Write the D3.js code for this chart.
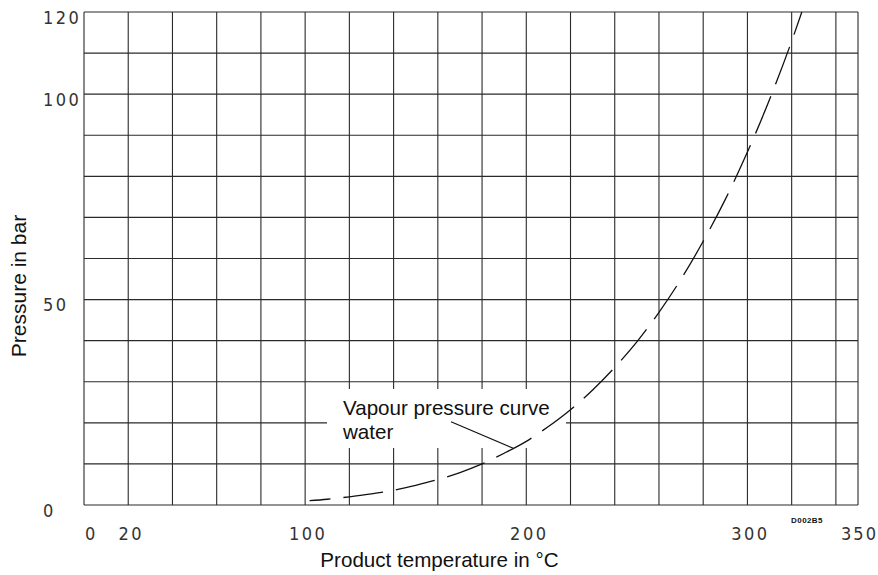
<!DOCTYPE html>
<html>
<head>
<meta charset="utf-8">
<script src="https://cdn.jsdelivr.net/npm/d3@7"></script>
<style>
  html, body { margin: 0; padding: 0; background: #fff; }
  svg { display: block; }
</style>
</head>
<body>
<svg id="chart" width="878" height="575"></svg>
<script>
// ---- data ----
const temperatureC = [102, 110, 120, 130, 140, 150, 160, 170, 180, 190, 200, 210, 220, 230, 240, 250, 260, 270, 280, 290, 300, 310, 320, 324.6];
const pressureBar  = [1.05, 1.4, 2.0, 2.7, 3.6, 4.8, 6.2, 7.9, 10.0, 12.6, 15.5, 19.1, 23.2, 28.0, 33.5, 39.7, 46.9, 55.0, 64.2, 74.4, 85.9, 98.7, 112.9, 120];
const xGridValues = [0, 20, 40, 60, 80, 100, 120, 140, 160, 180, 200, 220, 240, 260, 280, 300, 320, 340, 350];
const yGridValues = [0, 10, 20, 30, 40, 50, 60, 70, 80, 90, 100, 110, 120];
const xTickLabels = [0, 20, 100, 200, 300, 350];
const yTickLabels = [0, 50, 100, 120];
const xTitle = "Product temperature in °C";
const yTitle = "Pressure in bar";
const annotationLines = ["Vapour pressure curve", "water"];
const drawingCode = "D002B5";

// ---- layout ----
const svg = d3.select("#chart");
const x = d3.scaleLinear().domain([0, 350]).range([84, 858]);
const y = d3.scaleLinear().domain([0, 120]).range([505, 12]);

const gridColor = "#2a2a2a";

// grid
svg.append("g").selectAll("line").data(xGridValues).join("line")
  .attr("x1", d => x(d)).attr("x2", d => x(d))
  .attr("y1", y(0)).attr("y2", y(120))
  .attr("stroke", gridColor).attr("stroke-width", 1.1);

svg.append("g").selectAll("line").data(yGridValues).join("line")
  .attr("x1", x(0)).attr("x2", x(350))
  .attr("y1", d => y(d)).attr("y2", d => y(d))
  .attr("stroke", gridColor).attr("stroke-width", 1.1);

// white box behind annotation
svg.append("rect")
  .attr("x", 327).attr("y", 389).attr("width", 239).attr("height", 59)
  .attr("fill", "#fff");

// tick labels
const tickFont = "'Liberation Sans Narrow', 'DejaVu Sans Condensed', sans-serif";
svg.append("g").selectAll("text").data(yTickLabels).join("text")
  .attr("x", 43).attr("y", d => y(d) + 11.5)
  .attr("font-family", tickFont).attr("font-size", 18)
  .attr("letter-spacing", 2.5).attr("fill", "#333")
  .text(d => d);

const lastX = xTickLabels[xTickLabels.length - 1];
svg.append("g").selectAll("text").data(xTickLabels).join("text")
  .attr("x", d => d === 0 ? x(d) + 1 : (d === lastX ? x(d) + 1.5 : x(d) + 3))
  .attr("y", 540)
  .attr("text-anchor", d => d === 0 ? "start" : "middle")
  .attr("font-family", tickFont).attr("font-size", 18)
  .attr("letter-spacing", d => d === lastX ? 2.0 : 2.5).attr("fill", "#333")
  .text(d => d);

// drawing code
svg.append("text")
  .attr("x", 807).attr("y", 522.5).attr("text-anchor", "middle")
  .attr("font-family", "'Liberation Sans', Arial, sans-serif")
  .attr("font-size", 8).attr("font-weight", "bold")
  .attr("letter-spacing", 0.4).attr("fill", "#111")
  .text(drawingCode);

// axis titles
svg.append("text")
  .attr("x", 439.5).attr("y", 567).attr("text-anchor", "middle")
  .attr("font-family", "'Liberation Sans', Arial, sans-serif")
  .attr("font-size", 20.6).attr("fill", "#111")
  .text(xTitle);

svg.append("text")
  .attr("transform", "translate(25.5,286) rotate(-90)")
  .attr("text-anchor", "middle")
  .attr("font-family", "'Liberation Sans', Arial, sans-serif")
  .attr("font-size", 21).attr("fill", "#111")
  .text(yTitle);

// annotation
svg.append("g").selectAll("text").data(annotationLines).join("text")
  .attr("x", 343).attr("y", (d, i) => 414.5 + i * 24.5)
  .attr("font-family", "'Liberation Sans', Arial, sans-serif")
  .attr("font-size", 20.6).attr("fill", "#111")
  .text(d => d);

svg.append("line")
  .attr("x1", 451).attr("y1", 421.7).attr("x2", 513.3).attr("y2", 448.3)
  .attr("stroke", "#111").attr("stroke-width", 1.2);

// curve
const pts = temperatureC.map((t, i) => [t, pressureBar[i]]);
const line = d3.line().x(d => x(d[0])).y(d => y(d[1])).curve(d3.curveMonotoneX);
svg.append("path")
  .attr("d", line(pts))
  .attr("fill", "none").attr("stroke", "#111").attr("stroke-width", 1.3)
  .attr("stroke-dasharray", "40,13").attr("stroke-dashoffset", 19);
</script>
</body>
</html>
